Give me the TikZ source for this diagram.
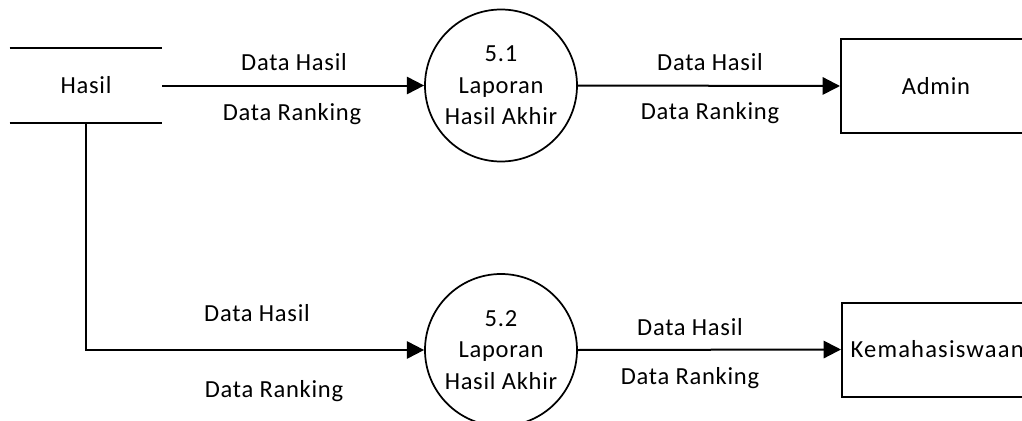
\documentclass[tikz,border=0pt]{standalone}
\usepackage{fontspec}
\setmainfont{Carlito}[LetterSpace=3]
\usetikzlibrary{arrows.meta}
\begin{document}
\begin{tikzpicture}[x=0.75pt,y=-0.75pt,
  every node/.style={font=\fontsize{18.4}{23.6}\selectfont, inner sep=0pt},
  proc/.style={draw, circle, line width=1.3pt, minimum size=114pt, align=center},
  ext/.style={draw, line width=1.5pt, minimum height=70.5pt},
  store/.style={minimum width=114pt, minimum height=56.25pt},
  storeline/.style={line width=1.5pt},
  flow/.style={line width=1.5pt, -{Triangle[length=13pt,width=13pt]}},
  lbl/.style={anchor=base}]
\useasboundingbox (0,0) rectangle (1022,421);
\clip (0,0) rectangle (1022,421);

% data store
\node[store] (hasil) at (86,85.5) {Hasil};
\draw[storeline] (hasil.north west) -- (hasil.north east);
\draw[storeline] (hasil.south west) -- (hasil.south east);

% processes
\node[proc] (p1) at (501,85.5) {5.1\\Laporan\\Hasil Akhir};
\node[proc] (p2) at (501,350) {5.2\\Laporan\\Hasil Akhir};

% external entities
\node[ext, minimum width=142.5pt] (admin) at (936,86) {Admin};
\node[ext, anchor=west, text width=130pt, inner xsep=6.5pt, align=left] (kmhs) at (841,349.5)
  {\addfontfeature{LetterSpace=4.8}Kemahasiswaan};

% data flows
\draw[flow] (hasil.east) -- (p1.west);
\draw[flow] (p1.east) -- (admin.west);
\draw[flow] (hasil.south) |- (p2.west);
\draw[flow] (p2.east) -- (kmhs.west);

% flow labels
\node[lbl] (l1a) at (294,70.5) {Data Hasil};
\node[lbl] (l1b) at (292,120) {Data Ranking};
\node[lbl] (l2a) at (710,70.5) {Data Hasil};
\node[lbl] (l2b) at (710,119.5) {Data Ranking};
\node[lbl] (l3a) at (257,321) {Data Hasil};
\node[lbl] (l3b) at (274,397) {Data Ranking};
\node[lbl] (l4a) at (690,335.5) {Data Hasil};
\node[lbl] (l4b) at (690,384) {Data Ranking};
\end{tikzpicture}
\end{document}
